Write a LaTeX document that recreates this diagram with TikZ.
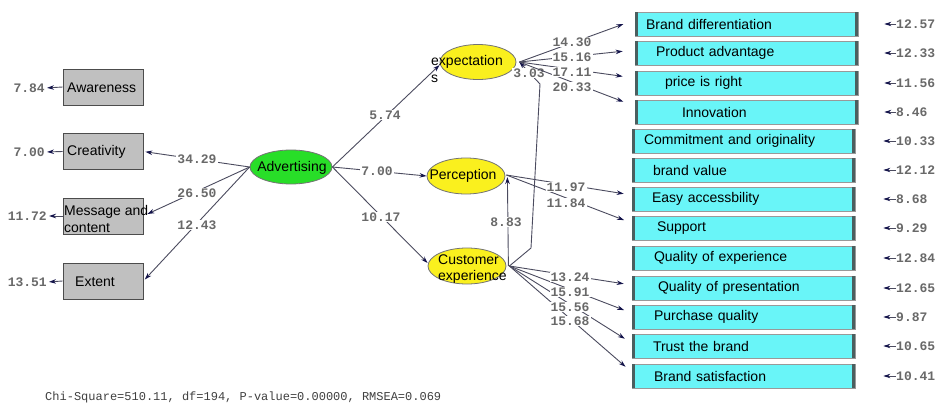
\documentclass[tikz,border=0pt]{standalone}
\usepackage{fontspec}
\setmainfont{Liberation Sans}
\newfontfamily\monof{Liberation Mono}
\usetikzlibrary{arrows.meta,shapes.geometric}
\definecolor{cyanbox}{RGB}{105,245,248}
\definecolor{graybox}{RGB}{192,192,192}
\definecolor{greenell}{RGB}{40,222,40}
\definecolor{yellowell}{RGB}{250,240,30}
\definecolor{linec}{RGB}{75,75,95}
\definecolor{tipc}{RGB}{20,20,75}
\definecolor{numc}{RGB}{105,105,105}
\definecolor{stripc}{RGB}{75,95,95}
\tikzset{
  txt/.style={font=\fontsize{14}{16.8}\selectfont, inner sep=0pt, text=black},
  lbox/.style={draw=black!70, line width=0.8pt, fill=graybox, minimum width=80pt, minimum height=36pt, inner sep=0pt},
  ell/.style={ellipse, draw=black!55, line width=0.8pt, inner sep=0pt},
  rbox/.style={draw=black!40, line width=0.8pt, fill=cyanbox, minimum height=24pt, text width=207pt, inner xsep=8pt, inner ysep=0pt, align=left, font=\fontsize{14}{16.8}\selectfont},
  num/.style={font=\monof\bfseries\fontsize{13}{14}\selectfont, text=numc, fill=white, inner sep=1pt},
  enum/.style={font=\monof\bfseries\fontsize{13}{14}\selectfont, text=numc, inner sep=0pt},
  arr/.style={draw=linec, line width=0.9pt, -{Stealth[length=7pt,width=4.5pt,color=tipc]}},
  earr/.style={draw=linec, line width=0.9pt, -{Stealth[length=7pt,width=4.5pt,color=tipc]}},
}
\newcommand{\strips}[1]{%
  \fill[stripc] (#1.north west) rectangle ([xshift=3.5pt]#1.south west);
  \fill[stripc] (#1.north east) rectangle ([xshift=-3.5pt]#1.south east);}
\begin{document}
\begin{tikzpicture}[x=1pt,y=-1pt]
\useasboundingbox[fill=white] (0,0) rectangle (938,410);

% left boxes
\node[lbox] (aw) at (103,87) {};
\node[lbox] (cr) at (103,151.5) {};
\node[lbox] (ms) at (103,216) {};
\node[lbox] (ex) at (103,281) {};
\node[txt,anchor=west] (taw) at (67,88) {Awareness};
\node[txt,anchor=west] (tcr) at (67,152) {Creativity};
\node[txt,anchor=west,align=left] (tms) at (64,219) {Message and\\content};
\node[txt,anchor=west] (tex) at (75,282) {Extent};

% left error terms
\node[enum,anchor=east] (ea) at (45,88) {7.84};
\node[enum,anchor=east] (ec) at (45,152) {7.00};
\node[enum,anchor=east] (em) at (47,216) {11.72};
\node[enum,anchor=east] (ee) at (47,282) {13.51};
\draw[earr,shorten >=2pt] (aw.west) -- (ea.east);
\draw[earr,shorten >=2pt] (cr.west) -- (ec.east);
\draw[earr,shorten >=2pt] (ms.west) -- (em.east);
\draw[earr,shorten >=2pt] (ex.west) -- (ee.east);

% ellipses
\node[ell,fill=greenell,minimum width=82pt,minimum height=34pt] (adv) at (291,167) {};
\node[txt] (tadv) at (292,168) {Advertising};
\node[ell,fill=yellowell,minimum width=76pt,minimum height=35pt] (exp) at (478,62) {};
\node[txt,anchor=west,align=left] (texp) at (431,69) {expectation\\s};
\node[ell,fill=yellowell,minimum width=78pt,minimum height=36pt] (per) at (466,176) {};
\node[txt] (tper) at (463,176) {Perception};
\node[ell,fill=yellowell,minimum width=78pt,minimum height=36pt] (cus) at (467,266) {};
\node[txt,anchor=west,align=left] (tcus) at (438,269) {Customer\\experience};

% right boxes
\node[rbox] (b1) at (746.5,24) {\hspace*{3pt}Brand differentiation};
\node[rbox] (b2) at (746.5,53) {\hspace*{13pt}Product advantage};
\node[rbox] (b3) at (746.5,83) {\hspace*{22pt}price is right};
\node[rbox] (b4) at (746.5,112) {\hspace*{39pt}Innovation};
\node[rbox] (b5) at (743.5,141) {\hspace*{4pt}Commitment and originality};
\node[rbox] (b6) at (743.5,170) {\hspace*{13pt}brand value};
\node[rbox] (b7) at (743.5,199) {\hspace*{12pt}Easy accessbility};
\node[rbox] (b8) at (743.5,228) {\hspace*{17pt}Support};
\node[rbox] (b9) at (743.5,258) {\hspace*{14pt}Quality of experience};
\node[rbox] (b10) at (743.5,288) {\hspace*{18pt}Quality of presentation};
\node[rbox] (b11) at (743.5,317) {\hspace*{14pt}Purchase quality};
\node[rbox] (b12) at (743.5,346) {\hspace*{13pt}Trust the brand};
\node[rbox] (b13) at (743.5,376) {\hspace*{14pt}Brand satisfaction};
\foreach \b in {b1,b2,b3,b4,b5,b6,b7,b8,b9,b10,b11,b12,b13} {\strips{\b}}

% right error terms
\foreach \i/\v/\y in {1/12.57/24,2/12.33/53,3/11.56/83,4/8.46/112,5/10.33/141,6/12.12/170,7/8.68/199,8/9.29/228,9/12.84/258,10/12.65/288,11/9.87/317,12/10.65/346,13/10.41/376} {
  \node[enum,anchor=west] (r\i) at (896,\y) {\v};
}
\foreach \i in {1,2,3,4} {\draw[earr,shorten >=26pt] (r\i.west) -- (b\i.east);}
\foreach \i in {5,6,7,8,9,10,11,12,13} {\draw[earr,shorten >=28pt] (r\i.west) -- (b\i.east);}

% Advertising -> indicators
\draw[arr,shorten >=2pt] (adv.west) -- (cr.east);
\draw[arr] (adv.west) -- ([xshift=4pt,yshift=2pt]ms.east);
\draw[arr,shorten >=2pt] (adv.west) -- (ex.east);
\node[num] (l1) at (197,159) {34.29};
\node[num] (l2) at (197,193) {26.50};
\node[num] (l3) at (197,225) {12.43};

% structural paths
\coordinate (k1) at (531,248);
\coordinate (k2) at (540,84);
\draw[arr] (adv.east) -- ([yshift=-3pt]exp.west);
\draw[arr] (adv.east) -- (per.west);
\draw[arr] (adv.east) -- ([yshift=3pt]cus.west);
\draw[arr] ([xshift=2pt]cus.east) -- ([xshift=2pt,yshift=-1pt]per.east);
\draw[arr] ([xshift=3pt]cus.east) -- (k1) -- (k2) -- ([xshift=3pt]exp.east);
\node[num] (l4) at (385,115) {5.74};
\node[num] (l5) at (377,171) {7.00};
\node[num] (l6) at (381,217) {10.17};
\node[num] (l7) at (506,222) {8.83};
\node[num] (l8) at (529,73) {3.03};

% measurement paths from latent variables
\draw[arr,shorten >=12pt] ([xshift=3pt]exp.east) -- ([yshift=4pt]b1.west);
\draw[arr,shorten >=12pt] ([xshift=3pt]exp.east) -- ([yshift=3pt]b2.west);
\draw[arr,shorten >=12pt] ([xshift=3pt]exp.east) -- ([yshift=5pt]b3.west);
\draw[arr,shorten >=12pt] ([xshift=3pt]exp.east) -- ([yshift=6pt]b4.west);
\node[num] (m1) at (572,42) {14.30};
\node[num] (m2) at (572,57) {15.16};
\node[num] (m3) at (572,72) {17.11};
\node[num] (m4) at (572,87) {20.33};

\draw[arr,shorten >=8pt] ([xshift=1pt,yshift=1pt]per.east) -- ([yshift=4pt]b7.west);
\draw[arr,shorten >=8pt] ([xshift=1pt,yshift=1pt]per.east) -- ([yshift=5pt]b8.west);
\node[num] (m5) at (566,187) {11.97};
\node[num] (m6) at (566,203) {11.84};

\draw[arr,shorten >=8pt] ([xshift=3pt]cus.east) -- ([yshift=3pt]b10.west);
\draw[arr,shorten >=8pt] ([xshift=3pt]cus.east) -- ([yshift=4pt]b11.west);
\draw[arr,shorten >=8pt] ([xshift=3pt]cus.east) -- ([yshift=3pt]b12.west);
\draw[arr,shorten >=8pt] ([xshift=3pt]cus.east) -- ([yshift=4pt]b13.west);
\node[num] (m7) at (570,277) {13.24};
\node[num] (m8) at (570,292) {15.91};
\node[num] (m9) at (570,307) {15.56};
\node[num] (m10) at (570,321) {15.68};

% fit statistics
\node[enum,anchor=west,text=black!75,font=\monof\fontsize{12}{14}\selectfont] (fit) at (45,397) {Chi-Square=510.11, df=194, P-value=0.00000, RMSEA=0.069};
\end{tikzpicture}
\end{document}
